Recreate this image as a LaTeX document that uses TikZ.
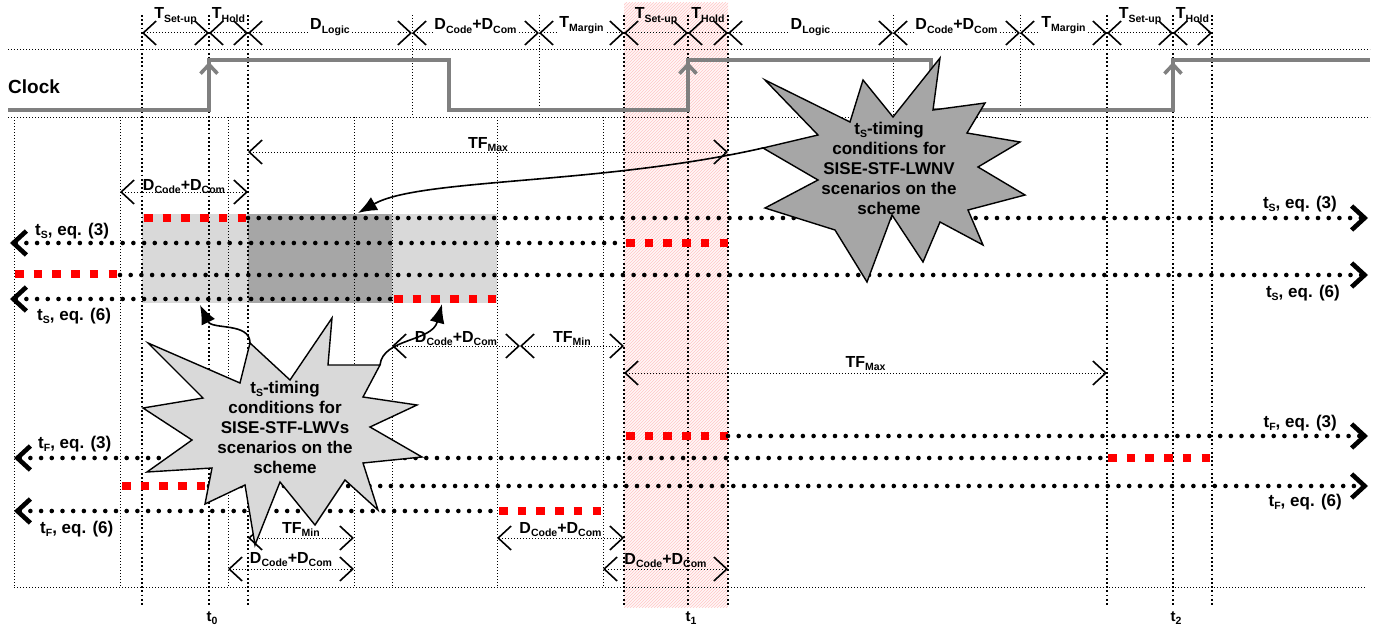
\documentclass[tikz,border=0pt]{standalone}
\usepackage{fontspec}
\setmainfont{Liberation Sans}
\usepackage{tikz}
\usetikzlibrary{arrows.meta,patterns}

\newcommand{\sbx}[1]{\raisebox{-0.4ex}{\fontsize{10.5}{12}\selectfont #1}}

\tikzset{
  lab/.style={font=\fontsize{16}{18}\selectfont\bfseries, inner sep=1pt},
  eqlab/.style={font=\fontsize{17}{19}\selectfont\bfseries, inner sep=0pt},
  tlab/.style={font=\fontsize{15}{17}\selectfont\bfseries, inner sep=0pt},
  starlab/.style={font=\fontsize{17}{20}\selectfont\bfseries, align=center, inner sep=0pt},
  grid/.style={line width=0.8pt, dash pattern=on 0.8pt off 2.2pt},
  gridb/.style={line width=1.8pt, dash pattern=on 1.8pt off 2.4pt},
  dim/.style={line width=1pt, dash pattern=on 1pt off 2pt, >={Straight Barb[length=13pt,width=24pt,line width=1.6pt]}, <->},
  dots/.style={line width=4.6pt, line cap=round, dash pattern=on 0pt off 10.7pt, >={Straight Barb[length=13pt,width=24pt,line width=4.6pt]}},
  reds/.style={line width=8.5pt, red, dash pattern=on 8.6pt off 10.1pt},
  clk/.style={line width=3.6pt, gray, >={Straight Barb[length=9pt,width=17pt]}},
  star/.style={draw, line width=1.4pt},
  callout/.style={line width=1.6pt, >={Latex[length=19pt,width=15pt]}, ->},
}

\begin{document}
\begin{tikzpicture}[x=1pt,y=-1pt]
\useasboundingbox (0,0) rectangle (1382,626);
% hatched window round t1
\fill[red!3] (624,3) rectangle (728,607);
\fill[pattern=north east lines, pattern color=red!22] (624,3) rectangle (728,607);
% shaded windows
\fill[gray!30] (142,214) rectangle (497,303);
\fill[gray!70] (248,214) rectangle (392,303);
% grid
\draw[grid] (8,49) -- (1370,49) (8,117) -- (1370,117) (14,587) -- (1365,587);
\draw[grid] (412,15) -- (412,117) (539,15) -- (539,117) (893,15) -- (893,117) (1020,15) -- (1020,117);
\draw[grid] (14,117) -- (14,587) (120,117) -- (120,587) (228,117) -- (228,587) (354,117) -- (354,587)
  (392,117) -- (392,587) (497,117) -- (497,587) (603,117) -- (603,587);
\draw[gridb] (142,15) -- (142,606) (209,15) -- (209,606) (248,15) -- (248,606)
  (624,15) -- (624,606) (688,15) -- (688,606) (728,15) -- (728,606)
  (1107,15) -- (1107,606) (1173,15) -- (1173,606) (1212,15) -- (1212,606);

% clock
\node[font=\fontsize{19}{21}\selectfont\bfseries, anchor=base west, inner sep=0pt] (clock) at (8,93) {Clock};
\draw[clk] (8,110) -- (209,110) -- (209,60) -- (449,60) -- (449,110) -- (688,110) -- (688,60)
  -- (931,60) -- (931,110) -- (1173,110) -- (1173,60) -- (1370,60);
\draw[clk,->] (209,100) -- (209,62);
\draw[clk,->] (688,100) -- (688,62);
\draw[clk,->] (1173,100) -- (1173,62);

% header
\coordinate (h0) at (142,33);
\coordinate (h1) at (209,33);
\coordinate (h2) at (248,33);
\coordinate (h3) at (412,33);
\coordinate (h4) at (539,33);
\coordinate (h5) at (624,33);
\coordinate (h6) at (688,33);
\coordinate (h7) at (728,33);
\coordinate (h8) at (893,33);
\coordinate (h9) at (1020,33);
\coordinate (h10) at (1107,33);
\coordinate (h11) at (1173,33);
\coordinate (h12) at (1212,33);
%
\path[dim]
 (h0) edge node[lab, anchor=base, yshift=14pt] (su1) {T\sbx{Set-up}} (h1)
 (h1) edge node[lab, anchor=base, yshift=14pt] (ho1) {T\sbx{Hold}} (h2)
 (h2) edge node[lab, fill=white, anchor=base, yshift=3pt] (lg1) {D\sbx{Logic}} (h3)
 (h3) edge node[lab, fill=white, anchor=base, yshift=3pt] (cc1) {D\sbx{Code}+D\sbx{Com}} (h4)
 (h4) edge node[lab, fill=white, anchor=base, yshift=5pt] (mg1) {T\sbx{Margin}} (h5)
 (h5) edge node[lab, anchor=base, yshift=14pt] (su2) {T\sbx{Set-up}} (h6)
 (h6) edge node[lab, anchor=base, yshift=14pt] (ho2) {T\sbx{Hold}} (h7)
 (h7) edge node[lab, fill=white, anchor=base, yshift=3pt] (lg2) {D\sbx{Logic}} (h8)
 (h8) edge node[lab, fill=white, anchor=base, yshift=3pt] (cc2) {D\sbx{Code}+D\sbx{Com}} (h9)
 (h9) edge node[lab, fill=white, anchor=base, yshift=5pt] (mg2) {T\sbx{Margin}} (h10)
 (h10) edge node[lab, anchor=base, yshift=14pt] (su3) {T\sbx{Set-up}} (h11)
 (h11) edge node[lab, anchor=base, yshift=14pt] (ho3) {T\sbx{Hold}} (h12);

% t_S rows
\draw[dots,->] (248,218) -- (1368,218);
\draw[reds] (144,218) -- (248,218);
\draw[dots,<-] (10,243) -- (624,243);
\draw[reds] (626,243) -- (728,243);
\draw[reds] (15,274) -- (120,274);
\draw[dots,->] (120,275) -- (1368,275);
\draw[dots,<-] (10,299) -- (392,299);
\draw[reds] (394,299) -- (497,299);
% t_F rows
\draw[reds] (626,436) -- (728,436);
\draw[dots,->] (728,436) -- (1368,436);
\draw[dots,<-] (14,458) -- (1107,458);
\draw[reds] (1108,458) -- (1212,458);
\draw[reds] (122,486) -- (209,486);
\draw[dots,->] (209,486) -- (1368,486);
\draw[dots,<-] (14,511) -- (497,511);
\draw[reds] (499,511) -- (603,511);

\node[eqlab, anchor=base east] (ts3r) at (1337,208) {t\sbx{S}, eq. (3)};
\node[eqlab, anchor=base west] (ts3l) at (35,235) {t\sbx{S}, eq. (3)};
\node[eqlab, anchor=base east] (ts6r) at (1340,297) {t\sbx{S}, eq. (6)};
\node[eqlab, anchor=base west] (ts6l) at (37,320) {t\sbx{S}, eq. (6)};
\node[eqlab, anchor=base east] (tf3r) at (1337,427) {t\sbx{F}, eq. (3)};
\node[eqlab, anchor=base west] (tf3l) at (38,448) {t\sbx{F}, eq. (3)};
\node[eqlab, anchor=base east] (tf6r) at (1342,506) {t\sbx{F}, eq. (6)};
\node[eqlab, anchor=base west] (tf6l) at (40,533) {t\sbx{F}, eq. (6)};

% time frames
\coordinate (m1a) at (248,152);
\coordinate (m1b) at (728,152);
\coordinate (m2a) at (120,192);
\coordinate (m2b) at (248,192);
\coordinate (m3a) at (392,346);
\coordinate (m3b) at (520,346);
\coordinate (m3c) at (624,346);
\coordinate (m4a) at (624,373);
\coordinate (m4b) at (1107,373);
\coordinate (b1a) at (248,538);
\coordinate (b1b) at (354,538);
\coordinate (b2a) at (228,569);
\coordinate (b2b) at (354,569);
\coordinate (b3a) at (497,538);
\coordinate (b3b) at (624,538);
\coordinate (b4a) at (603,569);
\coordinate (b4b) at (728,569);
%
\path[dim]
 (m1a) edge node[lab, anchor=base, yshift=4pt] (tfx1) {TF\sbx{Max}} (m1b)
 (m2a) edge node[lab, anchor=base, yshift=2pt] (dc1) {D\sbx{Code}+D\sbx{Com}} (m2b)
 (m3a) edge node[lab, anchor=base, yshift=4pt] (dc2) {D\sbx{Code}+D\sbx{Com}} (m3b)
 (m3b) edge node[lab, anchor=base, yshift=4pt] (tfn1) {TF\sbx{Min}} (m3c)
 (m4a) edge node[lab, anchor=base, yshift=6pt] (tfx2) {TF\sbx{Max}} (m4b)
 (b1a) edge node[lab, anchor=base, yshift=5pt] (tfn2) {TF\sbx{Min}} (b1b)
 (b2a) edge node[lab, anchor=base, yshift=6pt] (dc3) {D\sbx{Code}+D\sbx{Com}} (b2b)
 (b3a) edge node[lab, anchor=base, yshift=5pt] (dc4) {D\sbx{Code}+D\sbx{Com}} (b3b)
 (b4a) edge node[lab, anchor=base, yshift=5pt] (dc5) {D\sbx{Code}+D\sbx{Com}} (b4b);

% callout stars
\draw[star, fill=gray!70] (765,80) -- (850,122) -- (863,80) -- (893,117) -- (940,58) -- (933,110)
  -- (985,103) -- (967,133) -- (1020,142) -- (978,167) -- (1025,195) -- (968,210) -- (983,245)
  -- (940,222) -- (923,262) -- (892,215) -- (867,282) -- (835,230) -- (765,208) -- (818,180)
  -- (763,148) -- (818,135) -- cycle;
\node[starlab] (nvtxt) at (889,168) {t\sbx{S}-timing\\conditions for\\SISE-STF-LWNV\\scenarios on the\\scheme};
\draw[star, fill=gray!30] (148,343) -- (240,383) -- (250,343) -- (290,380) -- (332,318) -- (328,365)
  -- (380,365) -- (363,397) -- (417,405) -- (370,427) -- (422,457) -- (363,463) -- (378,510)
  -- (345,480) -- (315,525) -- (280,482) -- (255,545) -- (245,485) -- (205,504) -- (212,468)
  -- (147,472) -- (192,440) -- (143,408) -- (203,398) -- cycle;
\node[starlab] (vtxt) at (285,427) {t\sbx{S}-timing\\conditions for\\SISE-STF-LWVs\\scenarios on the\\scheme};

\coordinate (nvtip) at (763,148);
\coordinate (nvend) at (358,213);
\coordinate (vtipl) at (250,343);
\coordinate (vendl) at (200,305);
\coordinate (vtipr) at (380,365);
\coordinate (vendr) at (442,304);
\draw[callout] (nvtip) .. controls (600,185) and (420,178) .. (nvend);
\draw[callout] (vtipl) .. controls (250,322) and (212,330) .. (vendl);
\draw[callout] (vtipr) .. controls (383,338) and (432,342) .. (vendr);

% clock edges
\node[tlab, anchor=base] (t0) at (212,621) {t\sbx{0}};
\node[tlab, anchor=base] (t1) at (691,621) {t\sbx{1}};
\node[tlab, anchor=base] (t2) at (1176,621) {t\sbx{2}};
\end{tikzpicture}
\end{document}
